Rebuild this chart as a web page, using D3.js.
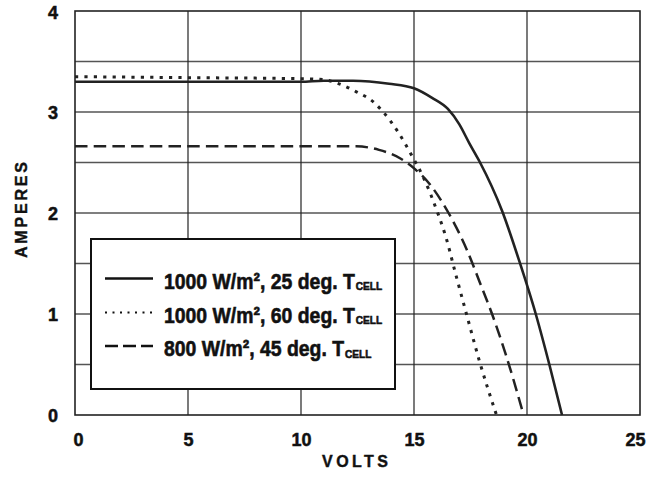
<!DOCTYPE html>
<html>
<head>
<meta charset="utf-8">
<script src="https://cdn.jsdelivr.net/npm/d3@7/dist/d3.min.js"></script>
<style>
  html, body { margin: 0; padding: 0; background: #fff; }
  svg { display: block; }
  .tick-label { font-family: "Liberation Sans", Arial, sans-serif; font-weight: bold; font-size: 18px; fill: #111; stroke: #111; stroke-width: 0.5px; }
  .axis-title { font-family: "Liberation Sans", Arial, sans-serif; font-weight: bold; font-size: 16px; fill: #111; stroke: #111; stroke-width: 0.4px; }
  .legend-text { font-family: "Liberation Sans", Arial, sans-serif; font-weight: bold; font-size: 22px; fill: #111; stroke: #111; stroke-width: 0.6px; }
</style>
</head>
<body>
<svg id="chart" width="648" height="484"></svg>
<script>
// I-V curves
const voltsA = [0, 5, 10, 11, 12.3, 13.9, 15.0, 15.8, 16.5, 17.0, 17.45, 17.9, 18.9, 19.65, 20.4, 21.0, 21.55];
const ampsA  = [3.30, 3.30, 3.30, 3.31, 3.31, 3.28, 3.235, 3.14, 3.03, 2.88, 2.69, 2.51, 2.02, 1.53, 0.99, 0.49, 0];

const voltsB = [0, 5, 10, 11, 11.6, 12.45, 13.2, 13.6, 14.3, 14.9, 15.4, 16.05, 16.4, 16.85, 17.37, 17.9, 18.65];
const ampsB  = [3.35, 3.34, 3.33, 3.32, 3.285, 3.20, 3.10, 3.01, 2.80, 2.57, 2.36, 2.00, 1.77, 1.39, 0.96, 0.53, 0];

const voltsC = [0, 5, 10, 12.45, 13.45, 14.4, 15.07, 15.75, 16.53, 17.35, 17.9, 18.47, 19.06, 19.85];
const ampsC  = [2.66, 2.66, 2.66, 2.66, 2.625, 2.54, 2.43, 2.27, 2.00, 1.63, 1.32, 0.99, 0.60, 0];

const legendLabels = ["1000 W/m², 25 deg. T", "1000 W/m², 60 deg. T", "800 W/m², 45 deg. T"];
const xTicks = [0, 5, 10, 15, 20, 25];
const yTicks = [0, 1, 2, 3, 4];
const yGrid = [0.5, 1, 1.5, 2, 2.5, 3, 3.5];

const plotLeft = 75, plotRight = 640, plotTop = 11, plotBottom = 415;

const svg = d3.select("#chart");
const x = d3.scaleLinear().domain([0, 25]).range([plotLeft, plotRight]);
const y = d3.scaleLinear().domain([0, 4]).range([plotBottom, plotTop]);

// grid
svg.append("g")
  .selectAll("line")
  .data(yGrid)
  .join("line")
  .attr("x1", plotLeft).attr("x2", plotRight)
  .attr("y1", (d) => y(d)).attr("y2", (d) => y(d))
  .attr("stroke", "#555")
  .attr("stroke-width", 1.3);

svg.append("g")
  .selectAll("line")
  .data([5, 10, 15, 20])
  .join("line")
  .attr("x1", (d) => x(d)).attr("x2", (d) => x(d))
  .attr("y1", plotTop).attr("y2", plotBottom)
  .attr("stroke", "#222")
  .attr("stroke-width", 1.2);

// plot frame
svg.append("rect")
  .attr("x", plotLeft).attr("y", plotTop)
  .attr("width", plotRight - plotLeft).attr("height", plotBottom - plotTop)
  .attr("fill", "none")
  .attr("stroke", "#222")
  .attr("stroke-width", 1.6);

// tick labels
const xAxis = svg.append("g")
  .attr("transform", `translate(0,${plotBottom})`)
  .call(d3.axisBottom(x).tickValues(xTicks).tickSize(0).tickPadding(0).tickFormat(d3.format("d")));
xAxis.select(".domain").remove();
xAxis.selectAll("text")
  .attr("class", "tick-label")
  .attr("y", 18)
  .attr("dx", (d) => d === 0 ? 3 : d === 25 ? -5 : 0)
  .attr("fill", null);

const yAxis = svg.append("g")
  .attr("transform", `translate(${plotLeft},0)`)
  .call(d3.axisLeft(y).tickValues(yTicks).tickSize(0).tickPadding(0).tickFormat(d3.format("d")));
yAxis.select(".domain").remove();
yAxis.selectAll("text")
  .attr("class", "tick-label")
  .attr("x", -17)
  .attr("dy", (d) => d === 4 ? "0.42em" : "0.34em")
  .attr("fill", null);

// axis titles
svg.append("text")
  .attr("class", "axis-title")
  .attr("x", 322).attr("y", 467)
  .attr("textLength", 66)
  .attr("lengthAdjust", "spacing")
  .text("VOLTS");

svg.append("text")
  .attr("class", "axis-title")
  .attr("transform", "translate(26.5,258) rotate(-90)")
  .attr("textLength", 96)
  .attr("lengthAdjust", "spacing")
  .text("AMPERES");

// curves
const line = d3.line()
  .x((d) => x(d[0]))
  .y((d) => y(d[1]))
  .curve(d3.curveMonotoneX);

const series = [
  { pts: d3.zip(voltsA, ampsA), dash: null, width: 2.6 },
  { pts: d3.zip(voltsB, ampsB), dash: "3.2,6.2", width: 3 },
  { pts: d3.zip(voltsC, ampsC), dash: "12.5,6.2", width: 2.5 }
];

svg.append("g")
  .selectAll("path")
  .data(series)
  .join("path")
  .attr("d", (d) => line(d.pts))
  .attr("fill", "none")
  .attr("stroke", "#222")
  .attr("stroke-width", (d) => d.width)
  .attr("stroke-dasharray", (d) => d.dash);

// legend
const lg = svg.append("g");
lg.append("rect")
  .attr("x", 91).attr("y", 239)
  .attr("width", 304).attr("height", 150)
  .attr("fill", "#fff")
  .attr("stroke", "#111")
  .attr("stroke-width", 2);

const legendDash = [null, "2,5.5", "13,5"];
const legendWidth = [2.4, 2, 2.6];
const rowY = [278.5, 312.5, 346];

const rows = lg.selectAll("g.row")
  .data(legendLabels)
  .join("g")
  .attr("class", "row")
  .attr("transform", (d, i) => `translate(0,${rowY[i]})`);

rows.append("line")
  .attr("x1", 105).attr("x2", 153)
  .attr("y1", 0).attr("y2", 0)
  .attr("stroke", "#111")
  .attr("stroke-width", (d, i) => legendWidth[i])
  .attr("stroke-dasharray", (d, i) => legendDash[i]);

const txt = rows.append("text")
  .attr("class", "legend-text");
const mainSpans = txt.append("tspan").text((d) => d);
txt.append("tspan")
  .attr("font-size", 11.5)
  .attr("dx", 1)
  .attr("dy", 1.5)
  .text("CELL");

// condense the legend text (the original uses a narrow face)
const natural = mainSpans.node().getComputedTextLength();
const squeeze = 191 / natural;
txt.attr("transform", `translate(164,10) scale(${squeeze},1)`);
</script>
</body>
</html>
